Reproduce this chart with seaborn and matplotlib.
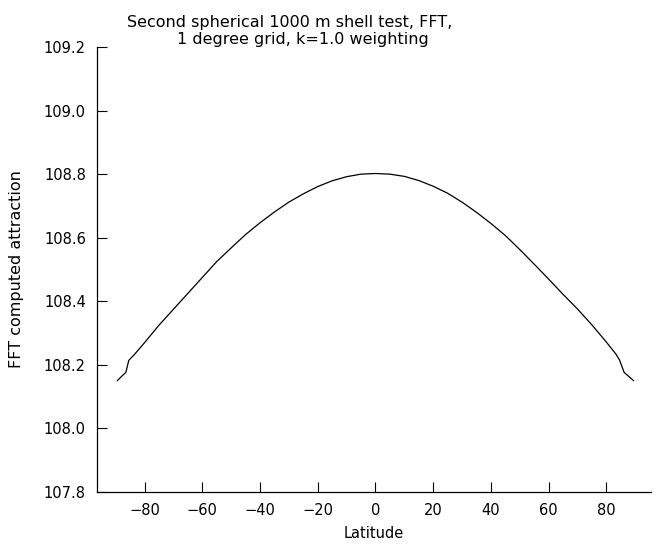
import matplotlib
matplotlib.use("Agg")
import matplotlib.pyplot as plt
import seaborn as sns
import pandas as pd

latitude = [-89.5, -87.5, -86.5, -85.5, -83.5, -80, -75, -70, -65, -60, -55, -50,
            -45, -40, -35, -30, -25, -20, -15, -10, -5, 0, 5, 10, 15, 20, 25, 30,
            35, 40, 45, 50, 55, 60, 65, 70, 75, 80, 83.5, 84.6, 86.2, 87.5, 89.5]
attraction = [108.150, 108.168, 108.176, 108.214, 108.233, 108.270, 108.325, 108.375,
              108.425, 108.475, 108.525, 108.568, 108.610, 108.647, 108.681, 108.712,
              108.738, 108.761, 108.779, 108.792, 108.800, 108.802, 108.800, 108.793,
              108.780, 108.762, 108.740, 108.712, 108.680, 108.645, 108.607, 108.563,
              108.517, 108.470, 108.422, 108.376, 108.326, 108.272, 108.232, 108.215,
              108.176, 108.166, 108.150]
x_ticks = [-80, -60, -40, -20, 0, 20, 40, 60, 80]
y_ticks = [107.8, 108.0, 108.2, 108.4, 108.6, 108.8, 109.0, 109.2]
title_line1 = "Second spherical 1000 m shell test, FFT,"
title_line2 = "1 degree grid, k=1.0 weighting"

df = pd.DataFrame({"Latitude": latitude, "attraction": attraction})

sns.set_style("ticks")
plt.rcParams["font.family"] = ["DejaVu Sans"]
plt.rcParams["text.color"] = "black"
plt.rcParams["axes.labelcolor"] = "black"

W, H = 656, 549
fig = plt.figure(figsize=(W / 100, H / 100), dpi=100)
ax = fig.add_axes([97 / W, 1 - 492 / H, (651 - 97) / W, (492 - 47) / H])

sns.lineplot(data=df, x="Latitude", y="attraction", ax=ax, color="black",
             linewidth=0.9, sort=False)

ax.set_xlim(-96.5, 95.5)
ax.set_ylim(107.8, 109.2)
ax.set_xticks(x_ticks)
ax.set_yticks(y_ticks)
ax.set_yticklabels([f"{v:.1f}" for v in y_ticks])
ax.tick_params(direction="in", length=7, width=0.8, labelsize=10.5, pad=8,
               colors="black")
for s in ["top", "right"]:
    ax.spines[s].set_visible(False)
for s in ["left", "bottom"]:
    ax.spines[s].set_linewidth(0.9)
    ax.spines[s].set_color("black")

ax.set_xlabel("Latitude", fontsize=10.5, labelpad=6)
ax.set_ylabel("FFT computed attraction", fontsize=11.5, labelpad=14)

fig.text(127 / W, 1 - 27 / H, title_line1, ha="left", va="baseline", fontsize=11.5,
         color="black")
fig.text(177 / W, 1 - 44 / H, title_line2, ha="left", va="baseline", fontsize=11.5,
         color="black")

fig.savefig("out.png", dpi=100)
